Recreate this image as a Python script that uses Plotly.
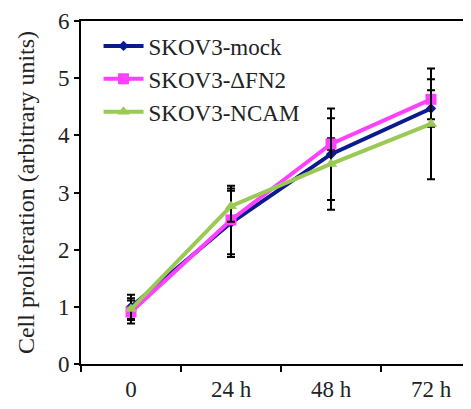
import plotly.graph_objects as go

categories = ["0", "24 h", "48 h", "72 h"]
series_names = ["SKOV3-mock", "SKOV3-ΔFN2", "SKOV3-NCAM"]
mock_vals = [1.00, 2.47, 3.67, 4.47]
mock_err = [0.21, 0.60, 0.80, 0.32]
dfn2_vals = [0.91, 2.52, 3.85, 4.63]
dfn2_err = [0.20, 0.60, 0.10, 0.35]
ncam_vals = [0.96, 2.76, 3.50, 4.20]
ncam_err = [0.19, 0.27, 0.80, 0.97]
y_ticks = [0, 1, 2, 3, 4, 5, 6]

colors = ["#0b1a8c", "#ff40ff", "#9bc955"]
symbols = ["diamond", "square", "triangle-up"]
msizes = [8, 11, 11]

# the page body has an 8px margin; compensate so the plot area lands at x=81..471, y=21..364
OFF = 8
xpos = list(range(len(categories)))
fig = go.Figure()
for name, vals, errs, c, s, ms in zip(series_names, [mock_vals, dfn2_vals, ncam_vals],
                                      [mock_err, dfn2_err, ncam_err], colors, symbols, msizes):
    fig.add_trace(go.Scatter(
        x=xpos, y=vals, name=name, mode="lines+markers",
        line=dict(color=c, width=4),
        marker=dict(color=c, symbol=s, size=ms),
        error_y=dict(type="data", array=errs, visible=True, color="black", thickness=2, width=4),
    ))

serif = "Liberation Serif"
fig.update_layout(
    width=471 - OFF, height=409 - OFF,
    margin=dict(l=81 - OFF, r=0, t=21 - OFF, b=45, autoexpand=False),
    paper_bgcolor="white", plot_bgcolor="white",
    font=dict(family=serif, color="#222", size=23),
    showlegend=True,
    legend=dict(x=0.045, y=0.99, xanchor="left", yanchor="top", bgcolor="rgba(0,0,0,0)",
                font=dict(family=serif, size=23, color="#222"),
                itemwidth=40),
    xaxis=dict(range=[-0.5, 3.4], tickvals=xpos, ticktext=categories, ticks="", ticklen=0,
               showline=True, linecolor="black", linewidth=2, mirror=True, showgrid=False,
               zeroline=False, tickfont=dict(size=23), automargin=False, ticklabelstandoff=3,
               minor=dict(ticks="outside", ticklen=6, tick0=-0.5, dtick=1, tickcolor="black",
                          tickwidth=2, showgrid=False)),
    yaxis=dict(range=[0, 6], tickvals=y_ticks, ticks="outside", ticklen=5, tickcolor="black",
               tickwidth=2, showline=True, linecolor="black", linewidth=2, showgrid=False,
               zeroline=False, tickfont=dict(size=23), automargin=False,
               title=dict(text="Cell proliferation (arbitrary units)", font=dict(size=24), standoff=17)),
)
fig.write_html("out.html")
